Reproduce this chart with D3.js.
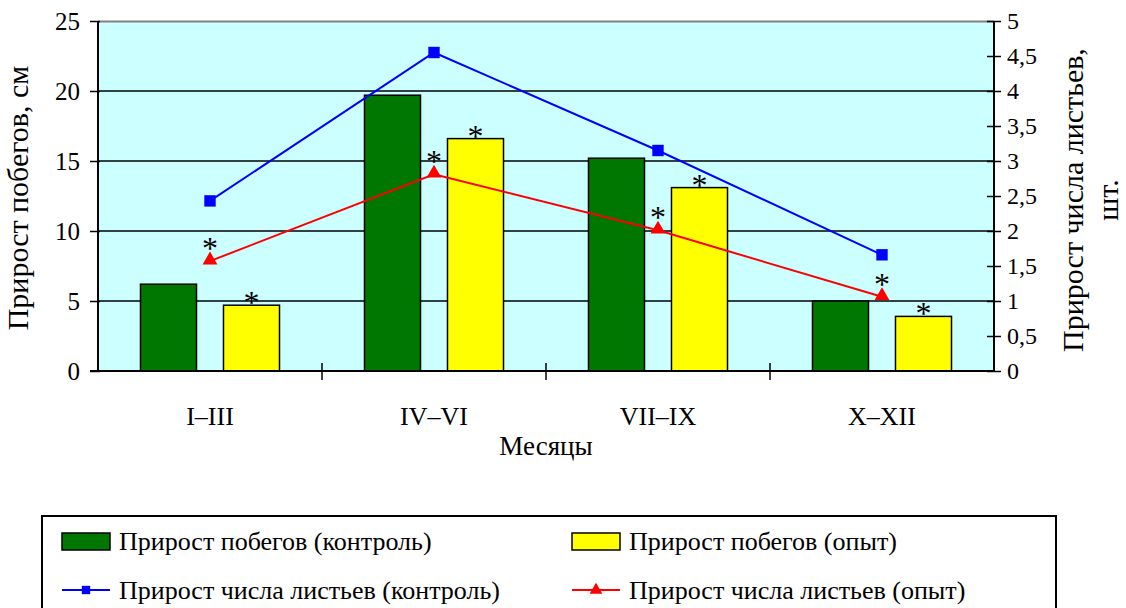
<!DOCTYPE html>
<html>
<head>
<meta charset="utf-8">
<script src="https://cdn.jsdelivr.net/npm/d3@7"></script>
<style>
  body { margin: 0; background: #fff; }
  svg text { font-family: 'Liberation Serif', Tinos, 'Times New Roman', Times, 'DejaVu Serif', serif !important; fill: #000; }
</style>
</head>
<body>
<div id="chart"></div>
<script>
// data
const months = ['I–III', 'IV–VI', 'VII–IX', 'X–XII']
const shootsControl = [6.2, 19.7, 15.2, 5.0]
const shootsTrial = [4.7, 16.6, 13.1, 3.9]
const leavesControl = [2.43, 4.55, 3.15, 1.66]
const leavesTrial = [1.57, 2.81, 2.01, 1.06]
const leftTicks = [0, 5, 10, 15, 20, 25]
const rightTicks = [0, 0.5, 1, 1.5, 2, 2.5, 3, 3.5, 4, 4.5, 5]

let margin = { top: 21, left: 98, right: 132, bottom: 237 }
let width = 1126 - margin.left - margin.right
let height = 608 - margin.top - margin.bottom

let svg = d3
  .select('#chart')
  .append('svg')
  .attr('width', 1126)
  .attr('height', 608)
  .append('g')
  .attr('transform', 'translate(' + margin.left + ',' + margin.top + ')')

let x0 = d3.scaleBand().domain(months).range([0, width])
let x1 = d3
  .scaleBand()
  .domain(['control', 'trial'])
  .range([0, x0.bandwidth()])
  .paddingInner(0.325)
  .paddingOuter(0.512)
let yLeft = d3.scaleLinear().domain([0, 25]).range([height, 0])
let yRight = d3.scaleLinear().domain([0, 5]).range([height, 0])

// plot background
svg
  .append('rect')
  .attr('width', width)
  .attr('height', height)
  .attr('fill', '#ccffff')

svg
  .append('line')
  .attr('x1', 0)
  .attr('x2', width)
  .attr('y1', 0.5)
  .attr('y2', 0.5)
  .attr('stroke', '#808080')
  .attr('stroke-width', 2)

// grid
svg
  .selectAll('.grid')
  .data(leftTicks.filter(d => d > 0 && d < 25))
  .enter()
  .append('line')
  .attr('class', 'grid')
  .attr('x1', 0)
  .attr('x2', width)
  .attr('y1', d => yLeft(d))
  .attr('y2', d => yLeft(d))
  .attr('stroke', '#000')
  .attr('stroke-width', 1.5)

// bars
let bars = [
  { key: 'control', values: shootsControl, color: '#007700' },
  { key: 'trial', values: shootsTrial, color: '#ffff00' }
]

bars.forEach(s => {
  svg
    .selectAll('.bar-' + s.key)
    .data(s.values)
    .enter()
    .append('rect')
    .attr('class', 'bar-' + s.key)
    .attr('x', (d, i) => x0(months[i]) + x1(s.key))
    .attr('y', d => yLeft(d))
    .attr('width', x1.bandwidth())
    .attr('height', d => height - yLeft(d))
    .attr('fill', s.color)
    .attr('stroke', '#000')
    .attr('stroke-width', 1.5)
})

// stars over trial bars
svg
  .selectAll('.bar-star')
  .data(shootsTrial)
  .enter()
  .append('text')
  .attr('class', 'bar-star')
  .text('*')
  .attr('x', (d, i) => x0(months[i]) + x1('trial') + x1.bandwidth() / 2)
  .attr('y', d => yLeft(d) + 8)
  .attr('text-anchor', 'middle')
  .attr('font-size', 32)

// lines
let cx = m => x0(m) + x0.bandwidth() / 2
let line = d3
  .line()
  .x((d, i) => cx(months[i]))
  .y(d => yRight(d))

svg
  .append('path')
  .datum(leavesControl)
  .attr('d', line)
  .attr('fill', 'none')
  .attr('stroke', '#0000ff')
  .attr('stroke-width', 2)

svg
  .append('path')
  .datum(leavesTrial)
  .attr('d', line)
  .attr('fill', 'none')
  .attr('stroke', '#ff0000')
  .attr('stroke-width', 2)

let square = d3.symbol().type(d3.symbolSquare).size(130)
let triangle = d3.symbol().type(d3.symbolTriangle).size(95)

svg
  .selectAll('.pt-control')
  .data(leavesControl)
  .enter()
  .append('path')
  .attr('class', 'pt-control')
  .attr('d', square)
  .attr('transform', (d, i) => `translate(${cx(months[i])},${yRight(d)})`)
  .attr('fill', '#0000ff')

svg
  .selectAll('.pt-trial')
  .data(leavesTrial)
  .enter()
  .append('path')
  .attr('class', 'pt-trial')
  .attr('d', triangle)
  .attr('transform', (d, i) => `translate(${cx(months[i])},${yRight(d) - 1})`)
  .attr('fill', '#ff0000')

svg
  .selectAll('.pt-star')
  .data(leavesTrial)
  .enter()
  .append('text')
  .attr('class', 'pt-star')
  .text('*')
  .attr('x', (d, i) => cx(months[i]))
  .attr('y', d => yRight(d) - 2)
  .attr('text-anchor', 'middle')
  .attr('font-size', 32)

// axes
let leftAxis = svg
  .append('g')
  .call(d3.axisLeft(yLeft).tickValues(leftTicks).tickSize(8).tickPadding(10))
leftAxis.selectAll('.tick line').attr('x2', -8).attr('x1', 2).attr('stroke-width', 1.5)
leftAxis.select('.domain').attr('stroke-width', 2).attr('d', `M0,0V${height}`)
leftAxis.selectAll('text').attr('font-size', 25)

let rightAxis = svg
  .append('g')
  .attr('transform', `translate(${width},0)`)
  .call(
    d3
      .axisRight(yRight)
      .tickValues(rightTicks)
      .tickSize(7)
      .tickPadding(6)
      .tickFormat(d => String(d).replace('.', ','))
  )
rightAxis.selectAll('.tick line').attr('x1', -7).attr('stroke-width', 1.5)
rightAxis.select('.domain').attr('stroke-width', 2).attr('d', `M0,0V${height}`)
rightAxis.selectAll('text').attr('font-size', 24)

// x axis
svg
  .append('line')
  .attr('x1', -8)
  .attr('x2', width)
  .attr('y1', height)
  .attr('y2', height)
  .attr('stroke', '#000')
  .attr('stroke-width', 2)

svg
  .selectAll('.xtick')
  .data(months.slice(1))
  .enter()
  .append('line')
  .attr('class', 'xtick')
  .attr('x1', d => x0(d))
  .attr('x2', d => x0(d))
  .attr('y1', height - 8)
  .attr('y2', height + 9)
  .attr('stroke', '#000')
  .attr('stroke-width', 1.5)

svg
  .selectAll('.xlabel')
  .data(months)
  .enter()
  .append('text')
  .attr('class', 'xlabel')
  .text(d => d)
  .attr('x', d => cx(d))
  .attr('y', height + 54)
  .attr('text-anchor', 'middle')
  .attr('font-size', 26)

svg
  .append('text')
  .text('Месяцы')
  .attr('x', width / 2)
  .attr('y', height + 84)
  .attr('text-anchor', 'middle')
  .attr('font-size', 27)

// axis titles
svg
  .append('text')
  .text('Прирост побегов, см')
  .attr('transform', `translate(-70,${height / 2 + 2}) rotate(-90)`)
  .attr('text-anchor', 'middle')
  .attr('font-size', 30)

let rTitle = svg
  .append('text')
  .attr('transform', `translate(${width + 89},${height / 2 + 4}) rotate(-90)`)
  .attr('text-anchor', 'middle')
  .attr('font-size', 30)
rTitle.append('tspan').text('Прирост числа листьев,').attr('x', 0)
rTitle.append('tspan').text('шт.').attr('x', 0).attr('dy', 35)

// legend
let legend = svg.append('g').attr('transform', `translate(${-56},${495})`)

legend
  .append('rect')
  .attr('width', 1014)
  .attr('height', 120)
  .attr('fill', 'none')
  .attr('stroke', '#000')
  .attr('stroke-width', 2)

let entries = [
  { label: 'Прирост побегов (контроль)', type: 'bar', color: '#007700' },
  { label: 'Прирост побегов (опыт)', type: 'bar', color: '#ffff00' },
  { label: 'Прирост числа листьев (контроль)', type: 'square', color: '#0000ff' },
  { label: 'Прирост числа листьев (опыт)', type: 'triangle', color: '#ff0000' }
]

legend
  .selectAll('.legend-entry')
  .data(entries)
  .enter()
  .append('g')
  .attr('class', 'legend-entry')
  .attr('transform', (d, i) => `translate(${i % 2 ? 530 : 20},${i < 2 ? 25 : 74})`)
  .each(function(d) {
    let g = d3.select(this)
    if (d.type === 'bar') {
      g.append('rect')
        .attr('x', 0)
        .attr('y', -8)
        .attr('width', 48)
        .attr('height', 17)
        .attr('fill', d.color)
        .attr('stroke', '#000')
        .attr('stroke-width', 1.5)
    } else {
      g.append('line')
        .attr('x1', 0)
        .attr('x2', 48)
        .attr('stroke', d.color)
        .attr('stroke-width', 2)
      g.append('path')
        .attr('d', d.type === 'square'
          ? d3.symbol().type(d3.symbolSquare).size(70)()
          : d3.symbol().type(d3.symbolTriangle).size(70)())
        .attr('transform', 'translate(24,0)')
        .attr('fill', d.color)
    }
    g.append('text')
      .text(d.label)
      .attr('x', 57)
      .attr('y', 9)
      .attr('font-size', 26)
  })
</script>
</body>
</html>
